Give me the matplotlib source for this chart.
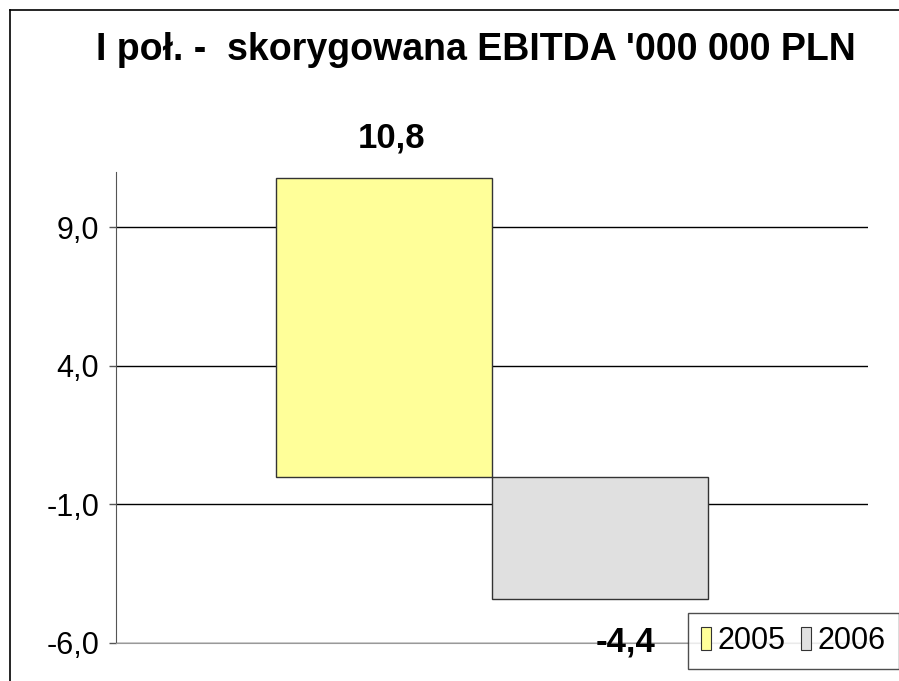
import matplotlib
matplotlib.use("Agg")
import matplotlib.pyplot as plt
from matplotlib.lines import Line2D
from matplotlib.patches import Patch

plt.rcParams['font.family'] = ['Liberation Sans', 'DejaVu Sans']

title = "I poł. -  skorygowana EBITDA '000 000 PLN"
years = ["2005", "2006"]
values = [10.8, -4.4]
labels = ["10,8", "-4,4"]
colors = ["#FFFF99", "#E0E0E0"]
yticks = [-6.0, -1.0, 4.0, 9.0]

W, H = 899, 681
fig = plt.figure(figsize=(W / 100, H / 100), dpi=100)
ax = fig.add_axes([116 / W, 1 - 643 / H, (868 - 116) / W, (643 - 172) / H])

w = 0.287
xs = [-w / 2, w / 2]
for x, v, c in zip(xs, values, colors):
    ax.bar(x, v, width=w, color=c, edgecolor="#333333", linewidth=1.0, zorder=3)

ax.set_xlim(-0.5, 0.5)
ax.set_ylim(-6, 11)
ax.set_yticks(yticks)
ax.set_yticklabels([f"{t:.1f}".replace(".", ",") for t in yticks], fontsize=22)
ax.set_xticks([])
ax.yaxis.grid(True, color="black", linewidth=1.0, zorder=0)
ax.tick_params(axis="y", length=5, width=1, color="#555555", pad=7)

for s in ["top", "right"]:
    ax.spines[s].set_visible(False)
ax.spines["left"].set_color("#555555")
ax.spines["bottom"].set_color("#999999")

# value labels
ax.text(-0.134, 12.23, labels[0], ha="center", va="center", fontsize=25, fontweight="bold")
ax.text(xs[1] + 0.034, -5.95, labels[1], ha="center", va="center", fontsize=25, fontweight="bold")

fig.text(475.5 / W, 1 - 50 / H, title, ha="center", va="center", fontsize=27, fontweight="bold")

handles = [Patch(facecolor=c, edgecolor="#333333", linewidth=0.8) for c in colors]
leg = fig.legend(handles, years, loc="lower left", bbox_to_anchor=(688 / W, 1 - 669 / H),
                 ncol=2, fontsize=22, frameon=True, fancybox=False, handlelength=0.33,
                 handleheight=0.75, handletextpad=0.22, columnspacing=0.5,
                 borderpad=0.42, borderaxespad=0)
leg.get_frame().set_edgecolor("#222222")
leg.get_frame().set_linewidth(1.0)

# outer border (right and bottom are cut off in the original)
fig.add_artist(Line2D([10 / W, 10 / W], [0, 1 - 10 / H], color="black", linewidth=1.2, transform=fig.transFigure))
fig.add_artist(Line2D([10 / W, 1], [1 - 10 / H, 1 - 10 / H], color="black", linewidth=1.2, transform=fig.transFigure))

fig.savefig("out.png", dpi=100)
